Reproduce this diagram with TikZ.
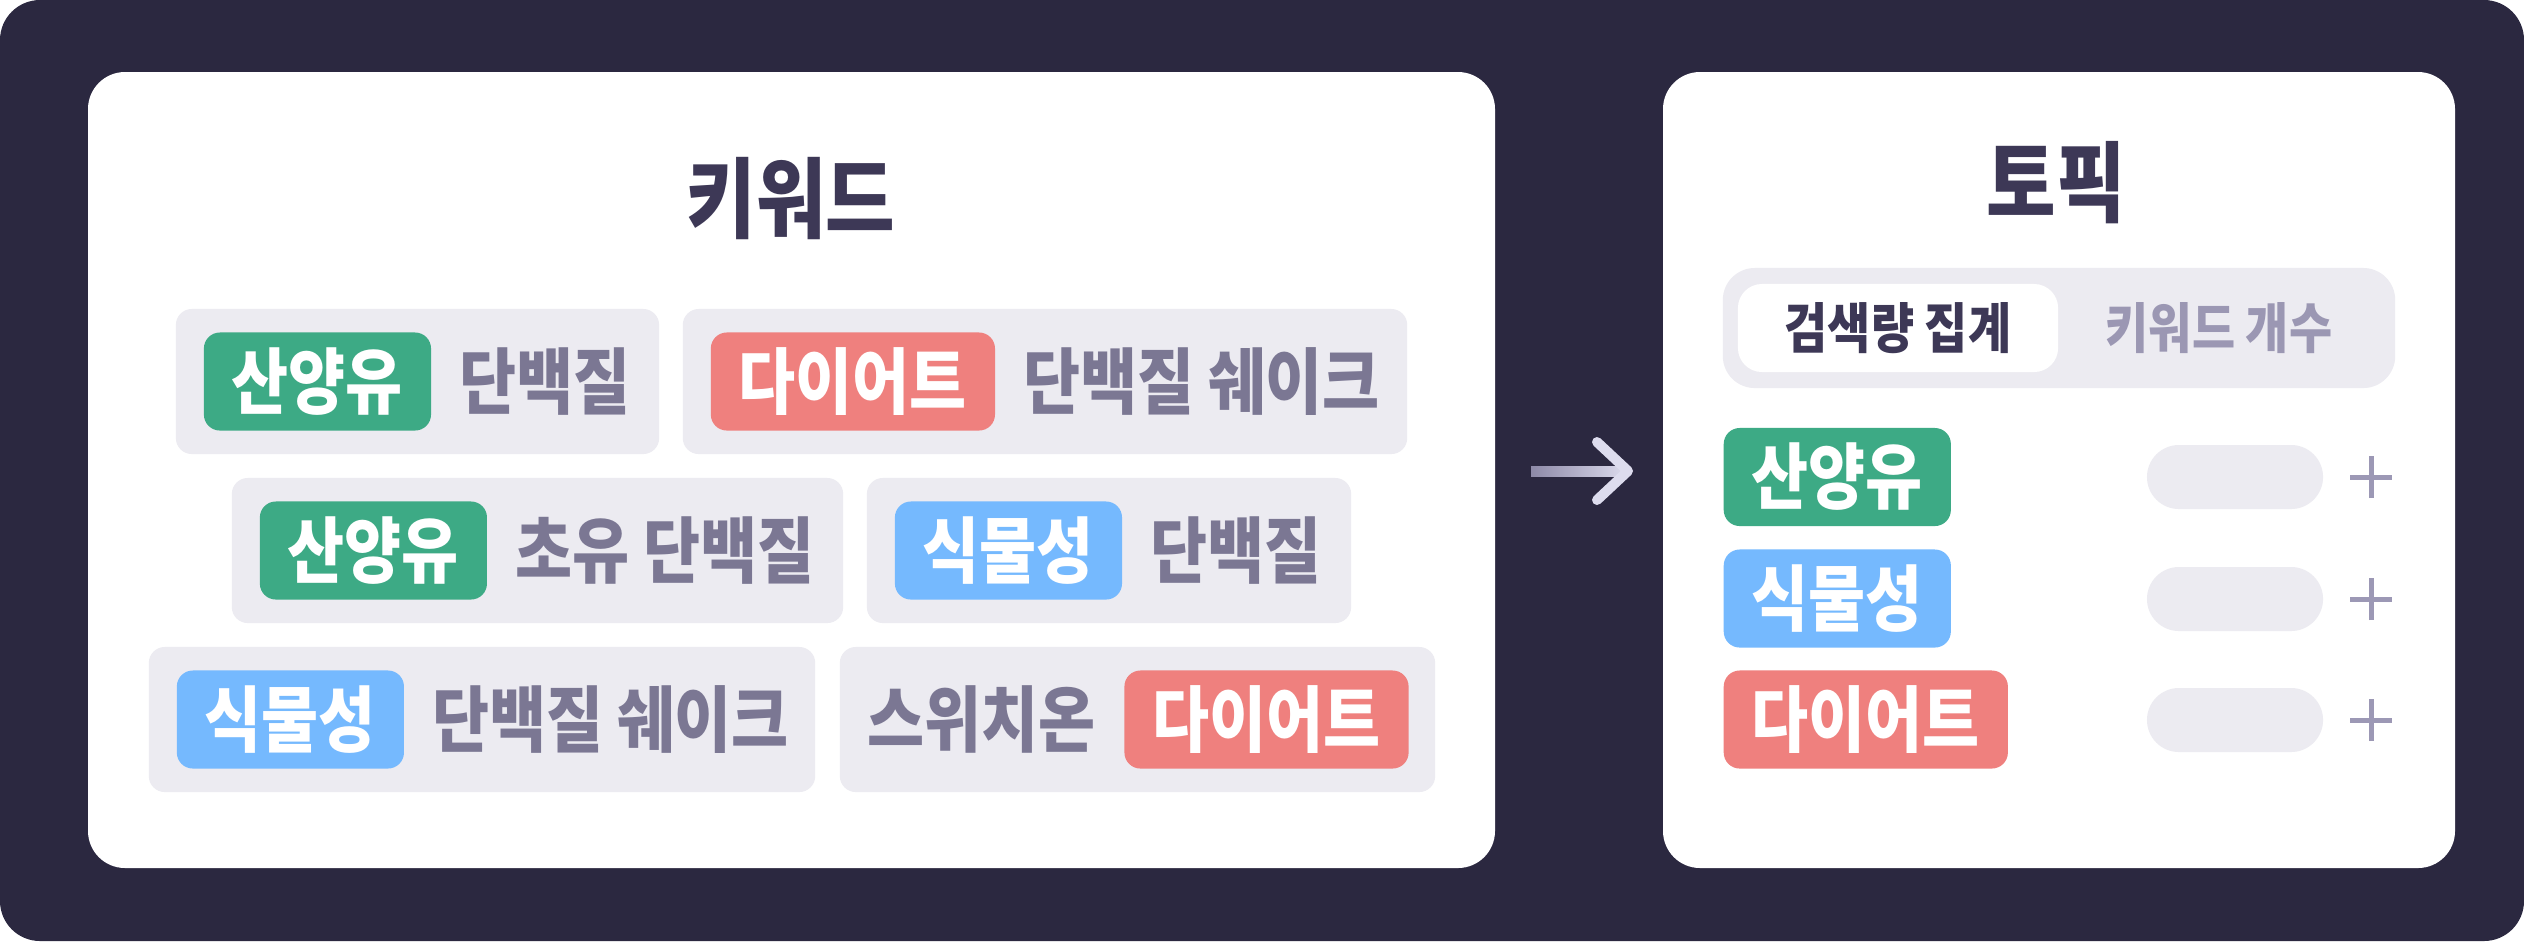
\documentclass[tikz,border=0pt]{standalone}
\usepackage{fontspec}
\setmainfont{Noto Sans CJK KR}[FakeStretch=0.86]
\usepackage{tikz}
\usetikzlibrary{positioning}

\definecolor{bgdark}{HTML}{2B2840}
\definecolor{titlecol}{HTML}{3D3856}
\definecolor{chipgray}{HTML}{ECEBF1}
\definecolor{wordgray}{HTML}{7B7793}
\definecolor{tabgray}{HTML}{9B97B3}
\definecolor{tagGreen}{HTML}{3DAA85}
\definecolor{tagRed}{HTML}{EF807E}
\definecolor{tagBlue}{HTML}{75B9FE}
\definecolor{plusgray}{HTML}{9C98B5}
\definecolor{arrowdark}{HTML}{8E8AA8}
\definecolor{arrowlight}{HTML}{DDDCEE}

\tikzset{
  panel/.style={fill=white, rounded corners=0.37cm},
  chip/.style={fill=chipgray, rounded corners=0.16cm, minimum height=1.45cm, inner sep=0pt},
  tag/.style={rounded corners=0.16cm, minimum height=0.98cm, inner xsep=0.28cm, inner ysep=0pt,
    text=white, font=\bfseries\fontsize{20.5}{21}\selectfont},
  word/.style={inner sep=0pt, text=wordgray, font=\bfseries\fontsize{20.5}{21}\selectfont},
  title/.style={text=titlecol, font=\bfseries\fontsize{25}{26}\selectfont},
  tabtext/.style={inner sep=0pt, font=\bfseries\fontsize{15.5}{16}\selectfont},
  pill/.style={fill=chipgray, rounded corners=0.32cm, minimum width=1.76cm, minimum height=0.64cm},
  plusline/.style={plusgray, line width=0.05cm}
}

\begin{document}
\begin{tikzpicture}[x=0.01cm, y=-0.01cm]
\useasboundingbox (0,0) rectangle (2524,941);
\fill[bgdark, rounded corners=0.4cm] (0,0) rectangle (2524,941);
\fill[panel] (88,72) rectangle (1495,868);
\fill[panel] (1663,72) rectangle (2455,868);

\node[title] (kw) at (791,199) {키워드};
\node[title] (tp) at (2056,183) {토픽};

% keyword chips
\node[chip, minimum width=4.83cm] (c1) at (417.5,381.5) {};
\node[chip, minimum width=7.24cm] (c2) at (1045,381.5) {};
\node[chip, minimum width=6.11cm] (c3) at (537.5,550.5) {};
\node[chip, minimum width=4.84cm] (c4) at (1109,550.5) {};
\node[chip, minimum width=6.66cm] (c5) at (482,719.5) {};
\node[chip, minimum width=5.95cm] (c6) at (1137.5,719.5) {};

\node[tag, fill=tagGreen, anchor=west] (t1) at ([xshift=0.28cm]c1.west) {산양유};
\node[word, right=0.27cm of t1] (w1) {단백질};
\node[tag, fill=tagRed, anchor=west] (t2) at ([xshift=0.28cm]c2.west) {다이어트};
\node[word, right=0.27cm of t2] (w2) {단백질 쉐이크};
\node[tag, fill=tagGreen, anchor=west] (t3) at ([xshift=0.28cm]c3.west) {산양유};
\node[word, right=0.27cm of t3] (w3) {초유 단백질};
\node[tag, fill=tagBlue, anchor=west] (t4) at ([xshift=0.28cm]c4.west) {식물성};
\node[word, right=0.27cm of t4] (w4) {단백질};
\node[tag, fill=tagBlue, anchor=west] (t5) at ([xshift=0.28cm]c5.west) {식물성};
\node[word, right=0.27cm of t5] (w5) {단백질 쉐이크};
\node[word, anchor=west] (w6) at ([xshift=0.28cm]c6.west) {스위치온};
\node[tag, fill=tagRed, right=0.27cm of w6] (t6) {다이어트};

% arrow
\coordinate (a1) at (1531,471);
\coordinate (a2) at (1628,471);
\shade[left color=arrowdark, right color=arrowlight] ([yshift=-0.05cm]a1) rectangle ([yshift=0.05cm]a2);
\draw[arrowlight, line width=0.1cm, line cap=round, line join=round]
  ([shift={(-31,-29)}]a2) -- (a2) -- ([shift={(-31,29)}]a2);

% topic side
\node[fill=chipgray, rounded corners=0.32cm, minimum width=6.72cm, minimum height=1.2cm] (tg) at (2059,328) {};
\node[fill=white, rounded corners=0.24cm, minimum width=3.2cm, minimum height=0.88cm] (sel) at (1898,328) {};
\node[tabtext, text=titlecol] (agg) at (sel) {검색량 집계};
\node[tabtext, text=tabgray] (cnt) at (2219,328) {키워드 개수};

\node[tag, fill=tagGreen, anchor=west] (r1) at (1723,477) {산양유};
\node[tag, fill=tagBlue, anchor=west] (r2) at (1723,598.5) {식물성};
\node[tag, fill=tagRed, anchor=west] (r3) at (1723,719.5) {다이어트};

\foreach \n/\y in {1/477,2/599,3/720}{
  \node[pill] (p\n) at (2235,\y) {};
  \coordinate (x\n) at ([xshift=1.36cm]p\n.center);
  \draw[plusline] ([xshift=-0.21cm]x\n) -- ([xshift=0.21cm]x\n);
  \draw[plusline] ([yshift=-0.21cm]x\n) -- ([yshift=0.21cm]x\n);
}
\end{tikzpicture}
\end{document}
